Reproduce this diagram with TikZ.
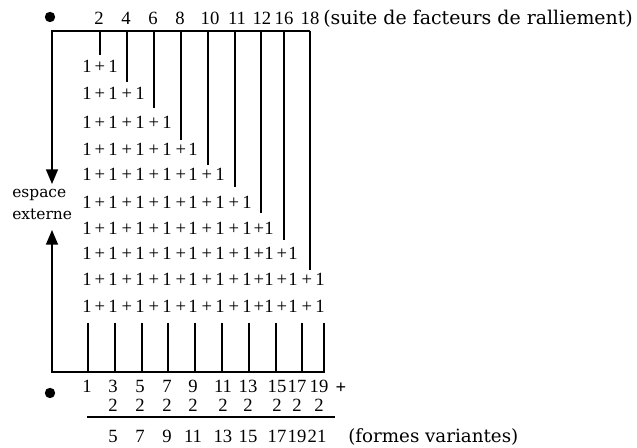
\documentclass[tikz,border=0pt]{standalone}
\usepackage{fontspec}
\setmainfont{Liberation Serif}
\newfontfamily\lblfont{DejaVu Serif}
\usetikzlibrary{arrows.meta}
\begin{document}
\begin{tikzpicture}[x=0.75pt,y=-0.75pt,
  num/.style={inner sep=0pt, anchor=base, font=\fontsize{14}{15}\selectfont},
  lbl/.style={inner sep=0pt, anchor=base west, font=\lblfont\fontsize{14.2}{16}\selectfont},
  sidelbl/.style={inner sep=0pt, anchor=base west, font=\lblfont\fontsize{11.6}{13}\selectfont},
  ln/.style={line width=1.1pt},
  arr/.style={line width=1.1pt, line join=miter, -{Triangle[length=11pt,width=9pt]}},
  dot/.style={circle, fill=black, inner sep=0pt, minimum size=7.8pt}]
\useasboundingbox (0,0) rectangle (637,448);

% bullets
\node[dot] (d1) at (50,17) {};
\node[dot] (d2) at (50,393) {};

% top sequence
\foreach \t/\x [count=\k] in {2/99,4/126,6/153,8/180,10/210,11/237,12/262,16/284,18/310}
  \node[num] (tn\k) at (\x,25) {\t};
\node[lbl] (toplbl) at (323,25) {(suite de facteurs de ralliement)};

% outer frame and arrows
\coordinate (TL) at (52,31);
\coordinate (TR) at (310,31);
\coordinate (aTop) at (52,184);
\coordinate (BRt) at (324,323);
\coordinate (BR) at (324,372);
\coordinate (BL) at (52,372);
\coordinate (aBot) at (52,230);
\draw[arr] (TR) -- (TL) -- (aTop);
\draw[arr] (BRt) -- (BR) -- (BL) -- (aBot);

\node[sidelbl] (esp) at (12,198) {espace};
\node[sidelbl] (ext) at (12,220) {externe};

% descending lines
\foreach \x/\e [count=\k] in {100/55,127/82,154/108,181/140,208/165,235/187,261/213,284/240,310/270}{
  \coordinate (vt\k) at (\x,31);
  \coordinate (vb\k) at (\x,\e);
  \draw[ln] (vt\k) -- (vb\k);
}

% rows of 1+1+...
\foreach \y [count=\r] in {73,100,129,156,181,209,235,260,286,313}{
  \pgfmathtruncatemacro\n{min(\r+1,10)}
  \foreach \ox [count=\k] in {87,113,140,167,193,220,247,269,293,320}{
    \ifnum\k>\n\relax\else
      \node[num] (r\r o\k) at (\ox,\y) {1};
    \fi
  }
  \foreach \px [count=\k] in {100,127,154,181,207,234,259,282,307}{
    \ifnum\k<\n\relax
      \node[num] (r\r p\k) at (\px,\y) {+};
    \fi
  }
}

% bottom short lines
\foreach \x [count=\k] in {88,115,142,168,195,222,249,276,302}{
  \coordinate (bt\k) at (\x,323);
  \coordinate (bb\k) at (\x,372);
  \draw[ln] (bt\k) -- (bb\k);
}

% bottom numbers
\foreach \t/\x [count=\k] in {1/87,3/113,5/140,7/167,9/193,11/223,13/248,15/277,17/297,19/319}
  \node[num] (bn\k) at (\x,393) {\t};
\node[num] (plus) at (341,394) {\textbf{+}};
\foreach \x [count=\k] in {113,140,167,193,223,248,277,297,319}
  \node[num] (two\k) at (\x,412) {2};
\coordinate (s1) at (87,417);
\coordinate (s2) at (335,417);
\draw[ln] (s1) -- (s2);
\foreach \t/\x [count=\k] in {5/113,7/140,9/167,11/193,13/223,15/248,17/277,19/297,21/317}
  \node[num] (res\k) at (\x,443) {\t};
\node[lbl,font=\lblfont\fontsize{13.7}{16}\selectfont] (botlbl) at (348,443) {(formes variantes)};
\end{tikzpicture}
\end{document}
